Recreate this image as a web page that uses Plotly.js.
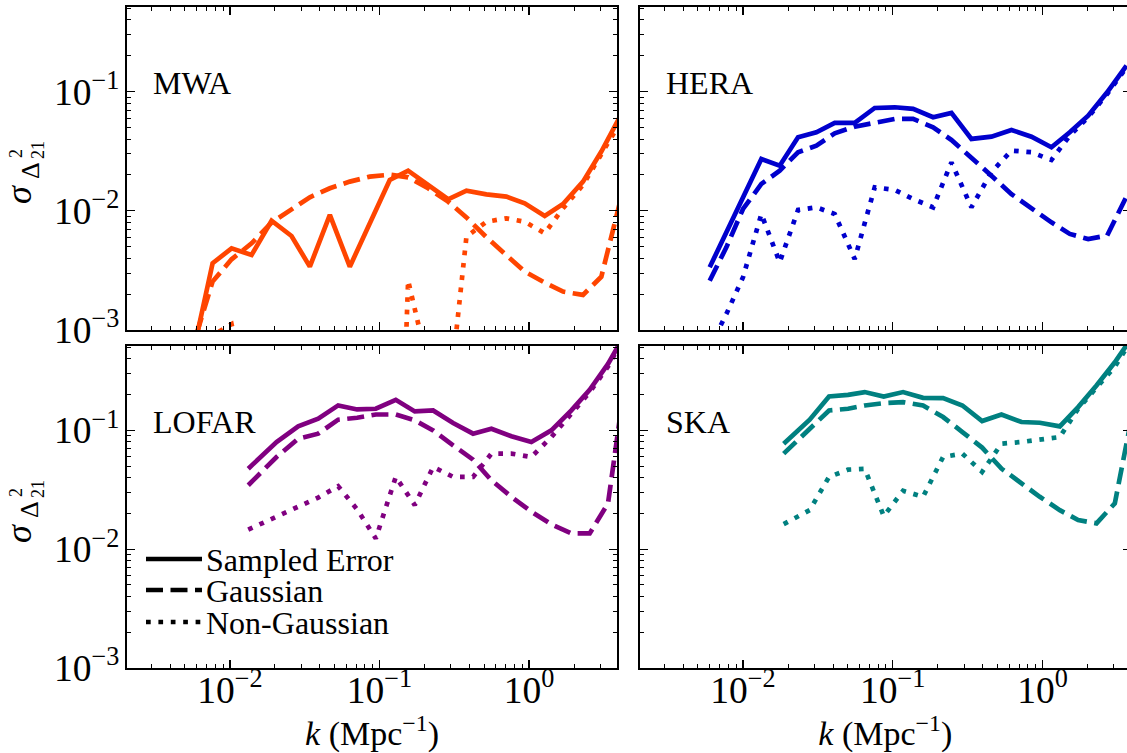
<!DOCTYPE html>
<html>
<head>
<meta charset="utf-8">
<script src="https://cdn.plot.ly/plotly-3.0.1.min.js"></script>
<style>
  html, body { margin: 0; padding: 0; overflow: hidden; background: #ffffff; }
  #plot { width: 1135px; height: 753px; }
</style>
</head>
<body>
<div id="plot"></div>
<script>
// ---------------- data ----------------
const kMWA = [0.00599, 0.00766, 0.01026, 0.01396, 0.01899, 0.02582, 0.03423, 0.04658, 0.06334, 0.08617, 0.1172, 0.1554, 0.2114, 0.2876, 0.3814, 0.5187, 0.7055, 0.9354, 1.273, 1.687, 2.295, 3.043, 4.035];
const mwaSampled = [0.00088, 0.00363, 0.00484, 0.00426, 0.00826, 0.00615, 0.0034, 0.00923, 0.0034, 0.00785, 0.01815, 0.0217, 0.0165, 0.0125, 0.01477, 0.01375, 0.01315, 0.01156, 0.00906, 0.0114, 0.01758, 0.0314, 0.061];
const mwaGaussian = [0.00093, 0.00255, 0.00392, 0.00533, 0.00796, 0.0103, 0.0130, 0.01545, 0.01758, 0.01936, 0.0201, 0.0191, 0.01545, 0.01194, 0.0088, 0.0060, 0.00426, 0.00309, 0.0025, 0.0021, 0.00197, 0.0028, 0.01156];
const mwaNonGaussian = [0.0002, 0.0009, 0.00112, 0.0002, 0.0003, 0.0002, 0.0003, 0.0002, 0.0003, 0.0002, 1e-7, 0.0026, 0.0005, 0.00022, 0.00607, 0.0081, 0.00865, 0.0081, 0.00648, 0.0105, 0.01648, 0.0294, 0.0542];

const kHERA = [0.00599, 0.00774, 0.0100, 0.01326, 0.01758, 0.02331, 0.0309, 0.04097, 0.05572, 0.0758, 0.1031, 0.1368, 0.186, 0.2466, 0.3354, 0.4562, 0.6208, 0.8443, 1.148, 1.522, 2.019, 2.704, 3.64];
const heraSampled = [0.00336, 0.0066, 0.01298, 0.0272, 0.0239, 0.0414, 0.0456, 0.0546, 0.0546, 0.0729, 0.0739, 0.0716, 0.0610, 0.0663, 0.0401, 0.0419, 0.0477, 0.0419, 0.0341, 0.0456, 0.0629, 0.0987, 0.165];
const heraGaussian = [0.00259, 0.00494, 0.01036, 0.0168, 0.0217, 0.0310, 0.0352, 0.0447, 0.0508, 0.0553, 0.0590, 0.0590, 0.0502, 0.0393, 0.0281, 0.0197, 0.0138, 0.01036, 0.0080, 0.0064, 0.0058, 0.0062, 0.01315];
const heraNonGaussian = [0.000714, 0.00136, 0.00277, 0.0094, 0.0037, 0.01016, 0.0107, 0.0094, 0.00394, 0.01574, 0.01496, 0.01256, 0.0107, 0.0255, 0.0107, 0.0211, 0.0320, 0.0310, 0.0267, 0.0428, 0.0610, 0.0955, 0.160];

const kLOFAR = [0.01326, 0.0205, 0.02861, 0.03893, 0.05294, 0.07091, 0.09452, 0.1285, 0.1722, 0.2284, 0.3106, 0.4224, 0.5602, 0.762, 1.036, 1.41, 1.918, 2.543, 3.372, 4.516];
const lofarSampled = [0.0476, 0.0798, 0.1081, 0.1254, 0.1622, 0.1500, 0.1520, 0.1808, 0.1443, 0.1472, 0.1153, 0.0938, 0.1033, 0.0891, 0.0798, 0.100, 0.1472, 0.2193, 0.362, 0.69];
const lofarGaussian = [0.0345, 0.0597, 0.0851, 0.0938, 0.123, 0.1277, 0.136, 0.136, 0.1213, 0.100, 0.0748, 0.0567, 0.0380, 0.0276, 0.0207, 0.01616, 0.01358, 0.01358, 0.0243, 0.34];
const lofarNonGaussian = [0.0146, 0.01875, 0.0224, 0.0272, 0.0339, 0.0216, 0.0123, 0.0406, 0.0235, 0.0492, 0.0406, 0.0406, 0.0637, 0.0637, 0.0597, 0.0879, 0.138, 0.210, 0.344, 0.678];

const kSKA = [0.01869, 0.02788, 0.03755, 0.0503, 0.065, 0.08709, 0.1172, 0.1594, 0.2169, 0.292, 0.3953, 0.5322, 0.7241, 0.9598, 1.306, 1.731, 2.295, 3.043, 4.035];
const skaSampled = [0.0773, 0.123, 0.1928, 0.199, 0.210, 0.1928, 0.210, 0.188, 0.1866, 0.162, 0.1197, 0.136, 0.1175, 0.1159, 0.108, 0.157, 0.239, 0.374, 0.627];
const skaGaussian = [0.0637, 0.1033, 0.147, 0.152, 0.162, 0.1695, 0.173, 0.162, 0.1294, 0.0968, 0.0716, 0.0477, 0.0356, 0.0276, 0.0213, 0.0176, 0.0165, 0.0243, 0.150];
const skaNonGaussian = [0.01626, 0.0213, 0.0406, 0.0467, 0.0474, 0.019, 0.031, 0.0276, 0.0597, 0.0637, 0.0447, 0.0773, 0.0798, 0.0835, 0.0879, 0.152, 0.231, 0.344, 0.607];

const panelNames = ['MWA', 'HERA', 'LOFAR', 'SKA'];
const legendLabels = ['Sampled Error', 'Gaussian', 'Non-Gaussian'];
const xTitle = '<i>k</i> (Mpc<sup>\u22121</sup>)';
const tickAlias = {'1': '10<sup>0</sup>'};

// ---------------- styling ----------------
const W = 1135, H = 753;
const FONT = '"Liberation Serif", "Times New Roman", serif';
const LW = 4.7;
const DASHES = ['solid', '17px,7.5px', '4.7px,7.7px'];
const panels = [
  {k: kMWA,   s: [mwaSampled, mwaGaussian, mwaNonGaussian],       color: '#FF4500', xa: 'x',  ya: 'y'},
  {k: kHERA,  s: [heraSampled, heraGaussian, heraNonGaussian],    color: '#0000CD', xa: 'x2', ya: 'y2'},
  {k: kLOFAR, s: [lofarSampled, lofarGaussian, lofarNonGaussian], color: '#800080', xa: 'x3', ya: 'y3'},
  {k: kSKA,   s: [skaSampled, skaGaussian, skaNonGaussian],       color: '#008080', xa: 'x4', ya: 'y4'}
];

const traces = [];
panels.forEach((p, pi) => {
  p.s.forEach((vals, si) => {
    traces.push({
      type: 'scatter', mode: 'lines', x: p.k, y: vals,
      xaxis: p.xa, yaxis: p.ya, name: panelNames[pi] + ' ' + legendLabels[si],
      showlegend: false, hoverinfo: 'skip',
      line: {color: p.color, width: LW, dash: DASHES[si]}
    });
  });
});

const xDomL = [127 / W, 617 / W], xDomR = [640 / W, 1130.5 / W];
const yDomT = [(H - 330) / H, (H - 7) / H], yDomB = [(H - 668) / H, (H - 346) / H];

function baseAxis(range, domain, anchor, labels) {
  return {
    type: 'log', range: range, domain: domain, anchor: anchor,
    showline: true, linecolor: 'black', linewidth: 1.6, mirror: 'allticks',
    ticks: 'inside', ticklen: 8, tickwidth: 1.3, tickcolor: 'black',
    tickmode: 'linear', tick0: 0, dtick: 1, exponentformat: 'power', labelalias: tickAlias,
    showticklabels: labels, showgrid: false, zeroline: false,
    tickfont: {family: FONT, size: 30, color: 'black'},
    minor: {ticks: 'inside', dtick: 'D1', ticklen: 4, tickwidth: 1, tickcolor: 'black', showgrid: false}
  };
}
function xAxis(domain, anchor, labels) {
  const a = baseAxis([-2.688, 0.588], domain, anchor, labels);
  if (labels) {
    a.ticklabelstandoff = -10;
    a.title = {text: xTitle, font: {family: FONT, size: 34, color: 'black'}, standoff: 13};
  }
  return a;
}
function yAxis(domain, anchor, labels) {
  return baseAxis([-3, -0.29], domain, anchor, labels);
}

const annotations = [];
function ann(px, py, text, size, extra) {
  annotations.push(Object.assign({
    xref: 'paper', yref: 'paper', x: px / W, y: 1 - py / H,
    xanchor: 'center', yanchor: 'middle', showarrow: false, text: text,
    font: {family: FONT, size: size, color: 'black'}
  }, extra || {}));
}
const namePos = [[151, 83], [664, 83], [151, 422], [664, 422]];
panelNames.forEach((n, i) => ann(namePos[i][0], namePos[i][1], n, 32, {xanchor: 'left'}));

// y-axis titles: sigma with subscript Delta^2_21 (stacked scripts), rotated
[0, 339].forEach(dy => {
  ann(19, 195 + dy, '<i>\u03C3</i>', 36, {textangle: -90});
  ann(30, 171 + dy, '\u0394', 26, {textangle: -90});
  ann(16, 154 + dy, '2', 18, {textangle: -90});
  ann(38, 150 + dy, '21', 18, {textangle: -90});
});

// manual legend (black samples) inside the LOFAR panel
const legY = [559, 590, 622];
const shapes = [];
legendLabels.forEach((lab, i) => {
  shapes.push({
    type: 'line', xref: 'paper', yref: 'paper',
    x0: 146 / W, x1: 202 / W, y0: 1 - legY[i] / H, y1: 1 - legY[i] / H,
    line: {color: 'black', width: LW, dash: DASHES[i]}
  });
  ann(204, legY[i] + 1, lab, 32, {xanchor: 'left'});
});

const layout = {
  width: W, height: H,
  margin: {l: 0, r: 0, t: 0, b: 0},
  paper_bgcolor: 'white', plot_bgcolor: 'white',
  showlegend: false,
  xaxis: xAxis(xDomL, 'y', false),
  yaxis: yAxis(yDomT, 'x', true),
  xaxis2: xAxis(xDomR, 'y2', false),
  yaxis2: yAxis(yDomT, 'x2', false),
  xaxis3: xAxis(xDomL, 'y3', true),
  yaxis3: yAxis(yDomB, 'x3', true),
  xaxis4: xAxis(xDomR, 'y4', true),
  yaxis4: yAxis(yDomB, 'x4', false),
  annotations: annotations,
  shapes: shapes
};

Plotly.newPlot('plot', traces, layout, {displayModeBar: false, staticPlot: true});
</script>
</body>
</html>
